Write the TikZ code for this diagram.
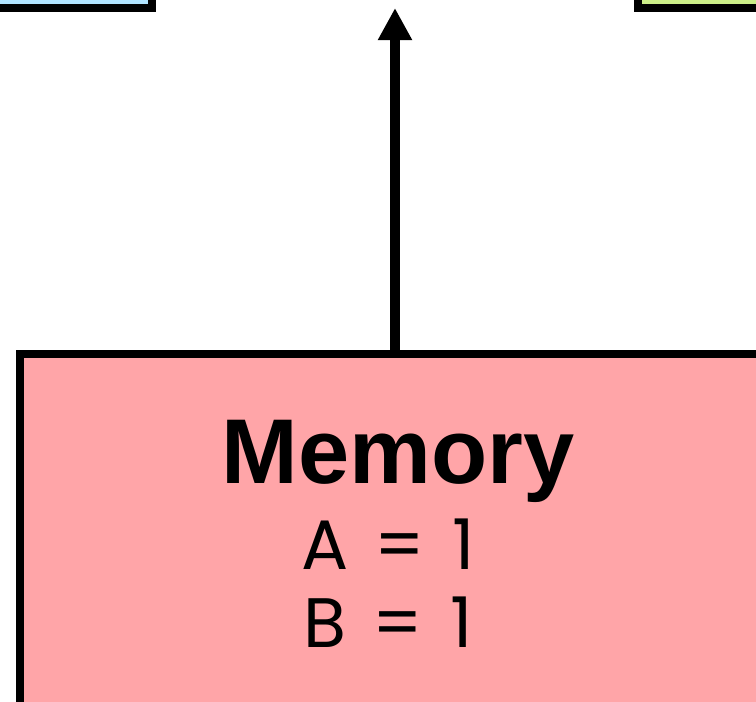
\documentclass[tikz,border=0pt]{standalone}
\usepackage{fontspec}
\setmainfont{Liberation Sans}
\newfontfamily\valfont{Poppins}
\usetikzlibrary{arrows.meta,positioning}
\definecolor{cachefill}{RGB}{176,228,255}
\definecolor{regfill}{RGB}{204,238,136}
\definecolor{memfill}{RGB}{255,165,168}
\begin{document}
\begin{tikzpicture}[
  x=1pt, y=-1pt,
  unit/.style={draw, line width=8pt, inner sep=0pt, outer sep=0pt},
  title/.style={font=\fontsize{92}{100}\selectfont\bfseries, inner sep=0pt},
  val/.style={font=\valfont\fontsize{70}{76}\selectfont, inner sep=0pt},
  arrow/.style={-{Triangle[length=32pt,width=32pt]}, line width=10pt}]
\useasboundingbox (0,0) rectangle (756,702);
% boxes, mostly cut off by the frame
\node[unit, fill=cachefill, minimum width=300pt, minimum height=200pt,
      anchor=south east] (cache) at (152,8) {};
\node[unit, fill=regfill, minimum width=300pt, minimum height=200pt,
      anchor=south west] (regs) at (638,8) {};
\node[unit, fill=memfill, minimum width=750pt, minimum height=500pt,
      anchor=north west] (mem) at (20,354) {};
\coordinate (up) at (395,8);
\draw[arrow] (mem.north) -- (up);
% memory contents
\node[title, anchor=base] (memname) at (398,483) {Memory};
\node[val, anchor=base] (vala) at (388,569) {A\hspace{26pt}=\hspace{27pt}1};
\node[val, anchor=base] (valb) at (388,647) {B\hspace{26pt}=\hspace{27pt}1};
\end{tikzpicture}
\end{document}
